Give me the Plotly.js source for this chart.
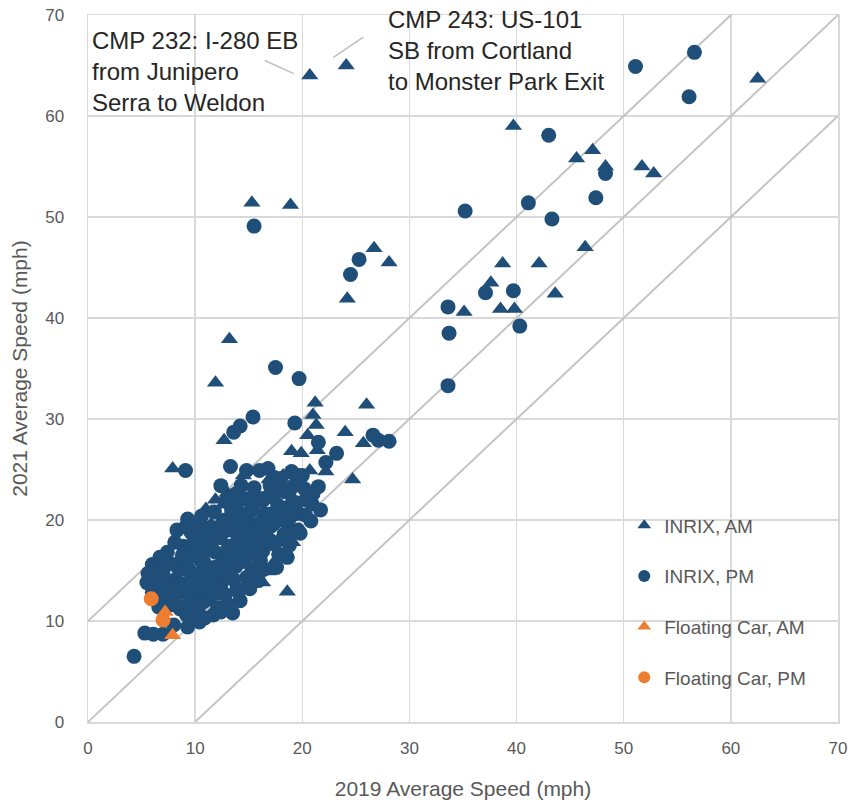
<!DOCTYPE html>
<html>
<head>
<meta charset="utf-8">
<script src="https://cdn.plot.ly/plotly-3.0.1.min.js"></script>
<style>body{margin:0;background:#fff;}#chart{width:854px;height:804px;}</style>
</head>
<body>
<div id="chart"></div>
<script>
// INRIX AM (triangles)
const inrixAmX = [20.7,24.1,62.5,39.7,45.6,47.1,48.3,51.7,52.8,15.3,18.9,26.7,28.1,24.2,46.4,38.7,42.1,43.6,37.6,35.1,38.5,39.8,
  13.2,11.9,21.2,26.0,21.0,21.3,24.0,20.5,25.7,19.0,19.9,21.4,20.7,22.2,24.7,18.2,7.9,12.7,11.0,11.9,12.6,13.9,
  19.1,16.8,16.3,18.6,10.0,
  6.9,7.5,8.4,9.0,9.8,10.6,11.2,12.0,12.5,13.4,14.1,14.8,15.2,15.8,16.6,17.2,17.9,18.4,19.4,20.2,14.5,16.9,17.6,11.5,9.5,13.0];
const inrixAmY = [64.0,65.0,63.7,59.0,55.8,56.6,55.0,55.0,54.3,51.4,51.2,46.9,45.5,41.9,47.0,45.4,45.4,42.4,43.5,40.6,40.9,40.9,
  37.9,33.6,31.6,31.4,30.4,29.4,28.7,28.4,27.6,26.8,26.6,26.9,24.9,24.8,24.0,24.4,25.1,27.9,21.1,22.0,21.5,21.7,
  17.8,14.9,13.8,12.9,9.8,
  12.0,14.2,14.8,11.6,13.5,15.2,13.6,12.4,17.9,14.6,16.7,13.7,16.3,19.1,17.8,15.6,18.2,21.2,21.8,20.3,24.4,24.0,23.2,19.6,17.0,22.7];

// INRIX PM (circles)
const inrixPmX = [56.6,51.1,56.1,43.0,48.3,47.4,41.1,35.2,43.3,37.1,39.7,33.6,40.3,33.7,33.6,15.5,25.3,24.5,
  17.5,19.7,15.4,14.2,13.6,19.3,21.5,26.6,27.1,28.1,23.2,22.2,13.3,9.1,16.0,20.0,12.4,21.5,21.7,
  5.3,6.1,7.0,4.3,11.7,13.5,5.6,6.1,6.7,6.4,7.2,7.6,8.1,8.6,9.2,8.3,8.1,8.8,9.4,9.0,9.8,10.3,10.8,10.2,10.5,10.0,9.6,
  11.0,11.4,11.8,11.3,12.2,12.6,12.0,12.8,13.2,13.6,13.0,13.9,14.4,14.2,14.0,14.7,15.0,15.3,15.6,16.1,15.9,16.4,15.5,
  16.8,17.1,17.4,18.6,18.0,17.7,18.4,18.9,19.5,19.8,19.2,20.3,20.8,
  7.8,8.9,9.7,10.6,11.5,12.3,13.1,14.0,14.9,15.8,16.6,17.5,18.3,19.0,11.0,12.9,14.6,16.3,9.3,7.0,12.7,15.2,17.9,10.4,
  8.0,9.3,10.4,9.9,10.9,12.4,6.6,7.8,9.6,10.8,12.1,13.0,14.2,
  6.0,7.2,8.4,10.0,11.4,12.8,14.0,15.1,5.5,7.7,8.3,10.9,12.4,13.6,14.8,15.9,
  7.0,8.6,9.8,11.4,12.9,13.8,15.3,16.4,17.6,6.0,8.0,9.2,10.9,12.2,13.4,14.9,16.3,17.8,18.8,
  7.4,8.9,10.1,11.9,13.1,14.6,15.6,17.0,18.3,19.6,9.9,10.8,12.4,14.0,15.2,16.5,17.3,18.9,20.3,
  9.1,10.3,11.6,12.5,13.8,14.8,16.0,17.0,18.1,19.4,20.9,10.6,11.8,13.4,15.3,16.2,17.3,18.8,20.2,21.0,
  13.8,14.3,15.6,17.0,18.0,19.6,14.8,16.8,17.4,19.0];
const inrixPmY = [66.3,64.9,61.9,58.1,54.3,51.9,51.4,50.6,49.8,42.5,42.7,41.1,39.2,38.5,33.3,49.1,45.8,44.3,
  35.1,34.0,30.2,29.3,28.7,29.6,27.7,28.4,27.9,27.8,26.6,25.7,25.3,24.9,24.9,24.4,23.4,23.3,21.0,
  8.8,8.7,8.7,6.5,10.6,10.8,14.7,14.9,16.3,13.6,15.5,13.0,12.0,11.2,10.6,19.0,17.8,16.5,15.1,13.7,12.4,11.3,13.0,14.5,16.0,17.6,18.8,
  19.2,17.1,15.3,12.2,13.9,16.4,18.3,20.0,19.0,17.5,15.0,13.2,15.9,18.6,20.8,22.1,19.7,17.2,14.6,16.0,18.5,20.6,23.2,
  22.3,19.4,17.6,16.3,20.0,21.5,22.8,19.0,20.8,18.7,23.4,22.0,19.9,
  11.8,12.9,14.2,12.1,13.0,15.0,16.1,17.1,17.9,17.0,18.9,20.4,18.1,21.6,16.9,21.9,19.4,21.9,20.1,13.4,14.8,20.9,23.9,18.7,
  9.6,9.4,9.9,10.7,10.3,10.9,11.4,11.6,11.7,11.9,11.3,11.7,12.0,
  12.8,12.6,12.7,13.2,12.8,12.6,12.9,13.2,13.8,13.7,13.9,14.0,13.5,14.1,14.3,14.0,
  14.6,15.3,14.7,14.6,14.3,15.4,15.2,15.1,15.3,15.6,15.6,16.0,15.7,15.4,16.2,16.6,16.9,16.6,17.5,
  16.8,17.4,16.4,16.8,17.4,17.4,17.8,18.0,18.6,19.0,18.3,17.9,18.5,18.1,18.6,18.8,19.6,20.3,20.5,
  19.3,19.3,18.9,19.6,19.8,20.4,19.7,20.6,21.2,21.7,21.6,20.4,20.8,21.0,21.2,22.1,22.3,22.9,23.1,22.6,
  22.6,23.4,22.3,23.4,24.1,24.4,24.9,25.1,24.2,24.8];

// Floating car
const fcAmX = [7.2,7.9];
const fcAmY = [10.9,8.6];
const fcPmX = [5.9,7.0];
const fcPmY = [12.2,10.1];

// Reference lines (y = x + 10, y = x, y = x - 10)
const refUpX = [0,60], refUpY = [10,70];
const refMidX = [0,70], refMidY = [0,70];
const refLowX = [10,70], refLowY = [0,60];

const tickVals = [0,10,20,30,40,50,60,70];

const blue = '#1f4e79', orange = '#ed7d31', lineGray = '#c4c4c4';

const refLine = (x, y) => ({x, y, type:'scatter', mode:'lines', line:{color:lineGray, width:2}, showlegend:false, hoverinfo:'skip'});

const data = [
  refLine(refUpX, refUpY), refLine(refMidX, refMidY), refLine(refLowX, refLowY),
  {x:inrixAmX, y:inrixAmY, type:'scatter', mode:'markers', name:'INRIX, AM', legendgroup:'a',
   marker:{symbol:'triangle-up', size:15, color:blue}},
  {x:inrixPmX, y:inrixPmY, type:'scatter', mode:'markers', name:'INRIX, PM', legendgroup:'b',
   marker:{symbol:'circle', size:15, color:blue}},
  {x:fcAmX, y:fcAmY, type:'scatter', mode:'markers', name:'Floating Car, AM', legendgroup:'c',
   marker:{symbol:'triangle-up', size:15, color:orange}},
  {x:fcPmX, y:fcPmY, type:'scatter', mode:'markers', name:'Floating Car, PM', legendgroup:'d',
   marker:{symbol:'circle', size:15, color:orange}}
];

const axisBase = {
  range:[0,70], tickvals:tickVals, showgrid:true, gridcolor:'#d9d9d9', gridwidth:1.5,
  zeroline:false, showline:true, linecolor:'#d9d9d9', linewidth:1.5, mirror:true,
  ticks:'', tickfont:{family:'Liberation Sans, Arial, sans-serif', size:17, color:'#595959'}, fixedrange:true
};

const layout = {
  width:854, height:804,
  margin:{l:88, r:16, t:15, b:82},
  paper_bgcolor:'#fff', plot_bgcolor:'#fff',
  font:{family:'Liberation Sans, Arial, sans-serif', color:'#595959'},
  xaxis:Object.assign({}, axisBase, {ticklabelstandoff:10,
    title:{text:'2019 Average Speed (mph)', font:{size:21, color:'#595959'}, standoff:24}}),
  yaxis:Object.assign({}, axisBase, {ticklabelstandoff:19,
    title:{text:'2021 Average Speed (mph)', font:{size:21, color:'#595959'}, standoff:12}}),
  showlegend:true,
  legend:{x:0.715, y:0.305, xanchor:'left', yanchor:'top', bgcolor:'rgba(0,0,0,0)',
    font:{size:19, color:'#595959'}, tracegroupgap:23, itemsizing:'constant'},
  annotations:[
    {xref:'paper', yref:'paper', x:0.003, y:(722-71.5)/707, xanchor:'left', yanchor:'middle', align:'left', showarrow:false,
     text:'CMP 232: I-280 EB<br>from Junipero<br>Serra to Weldon', font:{size:24, color:'#262626'}},
    {xref:'paper', yref:'paper', x:0.397, y:(722-50)/707, xanchor:'left', yanchor:'middle', align:'left', showarrow:false,
     text:'CMP 243: US-101<br>SB from Cortland<br>to Monster Park Exit', font:{size:24, color:'#262626'}}
  ],
  shapes:[
    {type:'line', xref:'x', yref:'y', x0:16.5, y0:65.5, x1:19.2, y1:64.2, line:{color:'#bfbfbf', width:1.5}},
    {type:'line', xref:'x', yref:'y', x0:22.9, y0:65.8, x1:25.7, y1:67.8, line:{color:'#bfbfbf', width:1.5}}
  ]
};

Plotly.newPlot('chart', data, layout, {displayModeBar:false, staticPlot:true});
</script>
</body>
</html>
